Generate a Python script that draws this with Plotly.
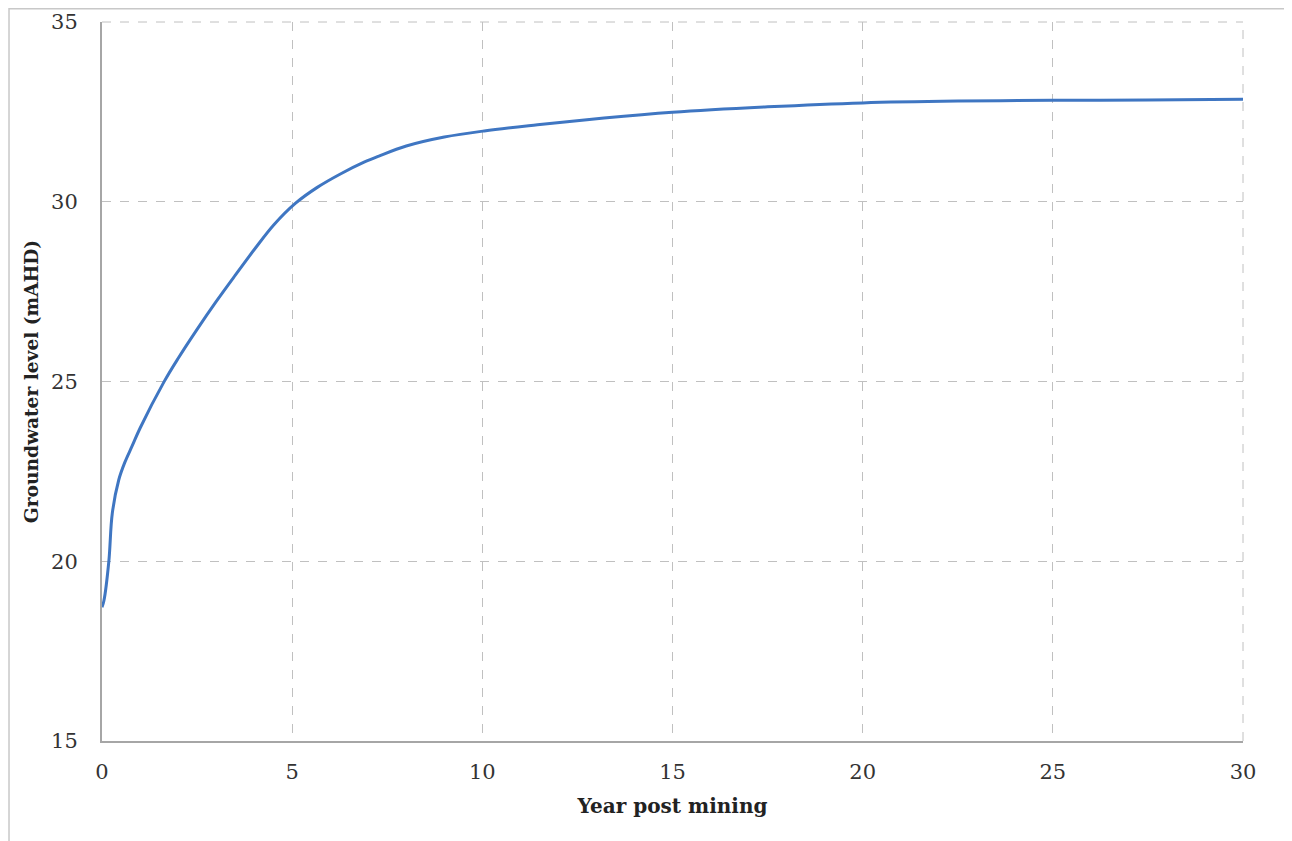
import plotly.graph_objects as go

years = [0, 0.05, 0.18, 0.27, 0.44, 0.6, 0.79, 1.0, 1.63, 2.0, 2.5, 3.0, 3.5, 4.04, 4.52, 5.09,
         5.66, 6.28, 6.89, 7.28, 8.0, 9.0, 10.05, 11.45, 13.2, 15, 17.5, 20, 22.5, 25, 27.5, 30]
levels = [18.72, 18.9, 20.0, 21.33, 22.26, 22.75, 23.2, 23.7, 24.99, 25.64, 26.45, 27.22, 27.95,
          28.72, 29.36, 29.96, 30.4, 30.78, 31.1, 31.27, 31.55, 31.8, 31.97, 32.14, 32.33, 32.49,
          32.64, 32.75, 32.8, 32.82, 32.83, 32.85]

x_ticks = [0, 5, 10, 15, 20, 25, 30]
y_ticks = [15, 20, 25, 30, 35]

font_family = "DejaVu Serif, serif"
grid_color = "#c0c0c0"

fig = go.Figure()
fig.add_trace(go.Scatter(
    x=years, y=levels, mode="lines",
    line=dict(color="#3f76c2", width=3, shape="spline", smoothing=1.0),
    showlegend=False, hoverinfo="skip",
))

fig.update_layout(
    width=1292, height=841,
    margin=dict(l=94, r=57, t=14, b=108, autoexpand=False),
    paper_bgcolor="white", plot_bgcolor="white",
    font=dict(family=font_family, color="#333333", size=20),
    shapes=[
        dict(type="rect", xref="paper", yref="paper",
             x0=-0.0815, x1=1.0377, y0=-0.3, y1=1.0184,
             line=dict(color="#c8c8c8", width=1.5), layer="below"),
        dict(type="line", xref="paper", yref="paper", x0=0, x1=1, y0=1, y1=1,
             line=dict(color=grid_color, width=1, dash="dash"), layer="below"),
        dict(type="line", xref="paper", yref="paper", x0=1, x1=1, y0=0, y1=1,
             line=dict(color=grid_color, width=1, dash="dash"), layer="below"),
    ],
)

fig.update_xaxes(
    range=[0, 30], tickvals=x_ticks, ticks="",
    showline=True, linecolor="#a6a6a6", linewidth=2,
    showgrid=True, gridcolor=grid_color, griddash="dash", gridwidth=1,
    zeroline=False, automargin=False,
    tickfont=dict(size=21, color="#333333"),
    ticklabelstandoff=11,
    title=dict(text="<b>Year post mining</b>", font=dict(size=20, color="#222222"), standoff=16),
)
fig.update_yaxes(
    range=[15, 35], tickvals=y_ticks, ticks="",
    showline=True, linecolor="#a6a6a6", linewidth=2,
    showgrid=True, gridcolor=grid_color, griddash="dash", gridwidth=1,
    zeroline=False, automargin=False,
    tickfont=dict(size=21, color="#333333"),
    ticklabelstandoff=18,
    title=dict(text="<b>Groundwater level (mAHD)</b>", font=dict(size=18.6, color="#222222"), standoff=8),
)

fig.write_html("out.html")
